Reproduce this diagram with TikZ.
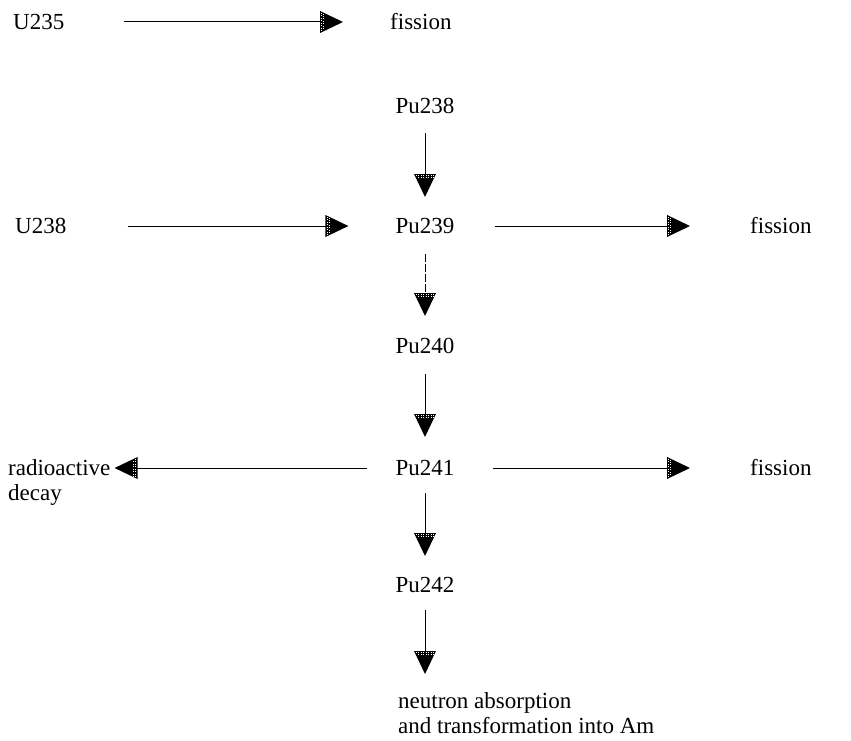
\documentclass[tikz,border=0pt]{standalone}
\usepackage{fontspec}
\setmainfont{Liberation Serif}
\usetikzlibrary{arrows.meta}
\pgfdeclarearrow{
  name = HTri,
  setup code = {
    \pgfarrowssettipend{0pt}
    \pgfarrowssetlineend{-20pt}
    \pgfarrowssetbackend{-23pt}
    \pgfarrowshullpoint{0pt}{0pt}
    \pgfarrowshullpoint{-23pt}{11pt}
    \pgfarrowshullpoint{-23pt}{-11pt}
  },
  drawing code = {
    \pgfsetfillcolor{black}
    \pgfpathmoveto{\pgfpoint{0pt}{0pt}}
    \pgfpathlineto{\pgfpoint{-23pt}{11pt}}
    \pgfpathlineto{\pgfpoint{-23pt}{-11pt}}
    \pgfpathclose
    \pgfusepathqfill
    \pgfsetstrokecolor{white}
    \pgfsetlinewidth{0.8pt}
    \pgfsetdash{{0.9pt}{1.6pt}}{0pt}
    \pgfpathmoveto{\pgfpoint{-21.2pt}{-9.2pt}}
    \pgfpathlineto{\pgfpoint{-21.2pt}{9.2pt}}
    \pgfusepathqstroke
    \pgfsetdash{{0.9pt}{1.6pt}}{1.25pt}
    \pgfpathmoveto{\pgfpoint{-19.2pt}{-8.2pt}}
    \pgfpathlineto{\pgfpoint{-19.2pt}{8.2pt}}
    \pgfusepathqstroke
  }
}
\begin{document}
\begin{tikzpicture}[x=1pt,y=-1pt,
  lbl/.style={inner sep=0pt, text height=15pt, text depth=0pt, font=\fontsize{23}{26}\selectfont},
  lft/.style={lbl, anchor=west},
  iso/.style={lbl, anchor=center},
  arr/.style={draw=black, line width=1pt, -{HTri}},
  darr/.style={arr, dash pattern=on 8pt off 2pt}
]
\useasboundingbox (0,0) rectangle (851,741);
% top row
\node[lft] (u235) at (13,22) {U235};
\node[lft] (f1) at (390,22) {fission};
% Pu chain
\node[iso] (pu238) at (425,106) {Pu238};
\node[iso] (pu239) at (425,226) {Pu239};
\node[iso] (pu240) at (425,346) {Pu240};
\node[iso] (pu241) at (425,468) {Pu241};
\node[iso] (pu242) at (425,585) {Pu242};
% side labels
\node[lft] (u238) at (15,226) {U238};
\node[lft] (f2) at (750,226) {fission};
\node[lft] (f3) at (750,468) {fission};
\node[lft] (rad) at (8,468) {radioactive};
\node[lft] (dec) at (8,493) {decay};
\node[lft] (neu) at (398,701) {neutron absorption};
\node[lft] (trn) at (398,726) {and transformation into Am};
% horizontal arrows
\draw[arr, shorten <=59pt, shorten >=47pt] (u235.east) -- (f1.west);
\draw[arr, shorten <=61pt, shorten >=47pt] (u238.east) -- (pu239.west);
\draw[arr, shorten <=40pt, shorten >=60pt] (pu239.east) -- (f2.west);
\draw[arr, shorten <=38pt, shorten >=60pt] (pu241.east) -- (f3.west);
\draw[arr, shorten <=28pt, shorten >=4pt] (pu241.west) -- (rad.east);
% vertical arrows
\draw[arr, shorten <=27pt, shorten >=29pt] (pu238.center) -- (pu239.center);
\draw[darr, shorten <=28pt, shorten >=30pt] (pu239.center) -- (pu240.center);
\draw[arr, shorten <=28pt, shorten >=31pt] (pu240.center) -- (pu241.center);
\draw[arr, shorten <=25pt, shorten >=29pt] (pu241.center) -- (pu242.center);
\draw[arr, shorten <=25pt, shorten >=27pt] (pu242.center) -- (pu242.center |- neu.center);
\end{tikzpicture}
\end{document}
